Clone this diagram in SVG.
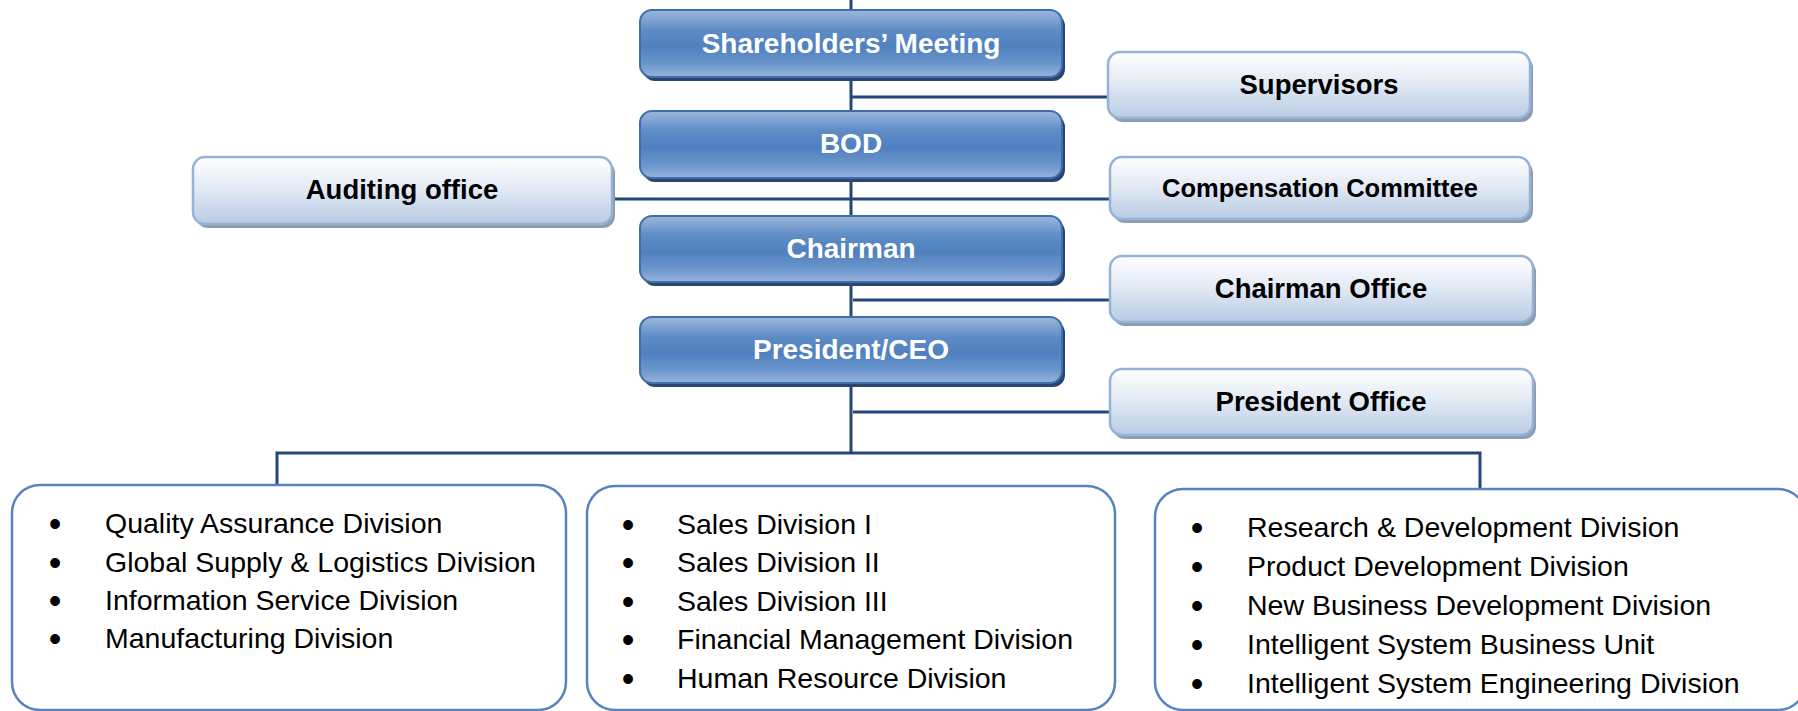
<svg xmlns="http://www.w3.org/2000/svg" width="1798" height="711" viewBox="0 0 1798 711">
<defs>
<linearGradient id="gBlue" x1="0" y1="0" x2="0" y2="1">
<stop offset="0" stop-color="#9cb8dc"/>
<stop offset="0.3" stop-color="#5e8cc6"/>
<stop offset="0.55" stop-color="#4f80bf"/>
<stop offset="0.8" stop-color="#6b96cc"/>
<stop offset="1" stop-color="#97b4da"/>
</linearGradient>
<linearGradient id="gWhite" x1="0" y1="0" x2="0" y2="1">
<stop offset="0" stop-color="#ffffff"/>
<stop offset="0.45" stop-color="#e4ebf5"/>
<stop offset="1" stop-color="#b8cbe4"/>
</linearGradient>
</defs>
<style>
.bshadow{fill:#2a4670}
.bbox{fill:url(#gBlue);stroke:#3f6ea8;stroke-width:2}
.wshadow{fill:#8e9cb0}
.wbox{fill:url(#gWhite);stroke:#95b3d7;stroke-width:2.5}
.btxt{font-family:"Liberation Sans",Arial,sans-serif;font-weight:bold;font-size:28px;fill:#ffffff;text-anchor:middle}
.wtxt{font-family:"Liberation Sans",Arial,sans-serif;font-weight:bold;font-size:27.5px;fill:#000000;text-anchor:middle}
.div{fill:#ffffff;stroke:#5584c0;stroke-width:2.5}
.li{font-family:"Liberation Sans",Arial,sans-serif;font-size:28.5px;fill:#000000}
.bul{font-family:"Liberation Sans",Arial,sans-serif;font-size:36px;fill:#000000;text-anchor:middle}
.conn{stroke:#24467a;stroke-width:3;fill:none}
</style>
<g id="connectors">
<line class="conn" x1="851" y1="0" x2="851" y2="453"/>
<line class="conn" x1="851" y1="97" x2="1108" y2="97"/>
<line class="conn" x1="611" y1="199" x2="1110" y2="199"/>
<line class="conn" x1="853" y1="300" x2="1110" y2="300"/>
<line class="conn" x1="853" y1="412" x2="1110" y2="412"/>
<polyline class="conn" points="277,486 277,453 1480,453 1480,489"/>
</g>
<g id="shareholders">
<rect class="bshadow" x="643" y="14" width="422" height="67" rx="12"/>
<rect class="bbox" x="640" y="10" width="422" height="67" rx="12"/>
<text class="btxt" x="851" y="53">Shareholders’ Meeting</text>
</g>
<g id="supervisors">
<rect class="wshadow" x="1111" y="56" width="422" height="66" rx="12"/>
<rect class="wbox" x="1108" y="52" width="422" height="66" rx="12"/>
<text class="wtxt" x="1319" y="94">Supervisors</text>
</g>
<g id="bod">
<rect class="bshadow" x="643" y="115" width="422" height="67" rx="12"/>
<rect class="bbox" x="640" y="111" width="422" height="67" rx="12"/>
<text class="btxt" x="851" y="153">BOD</text>
</g>
<g id="auditing">
<rect class="wshadow" x="196" y="161" width="419" height="67" rx="12"/>
<rect class="wbox" x="193" y="157" width="419" height="67" rx="12"/>
<text class="wtxt" x="402" y="199">Auditing office</text>
</g>
<g id="compensation">
<rect class="wshadow" x="1113" y="161" width="420" height="62" rx="12"/>
<rect class="wbox" x="1110" y="157" width="420" height="62" rx="12"/>
<text class="wtxt" x="1320" y="197" style="font-size:25.5px">Compensation Committee</text>
</g>
<g id="chairman">
<rect class="bshadow" x="643" y="220" width="422" height="66" rx="12"/>
<rect class="bbox" x="640" y="216" width="422" height="66" rx="12"/>
<text class="btxt" x="851" y="258">Chairman</text>
</g>
<g id="chairman-office">
<rect class="wshadow" x="1113" y="260" width="423" height="66" rx="12"/>
<rect class="wbox" x="1110" y="256" width="423" height="66" rx="12"/>
<text class="wtxt" x="1321" y="298">Chairman Office</text>
</g>
<g id="president">
<rect class="bshadow" x="643" y="321" width="422" height="66" rx="12"/>
<rect class="bbox" x="640" y="317" width="422" height="66" rx="12"/>
<text class="btxt" x="851" y="359">President/CEO</text>
</g>
<g id="president-office">
<rect class="wshadow" x="1113" y="373" width="423" height="66" rx="12"/>
<rect class="wbox" x="1110" y="369" width="423" height="66" rx="12"/>
<text class="wtxt" x="1321" y="411">President Office</text>
</g>
<g id="divisions-1">
<rect class="div" x="12" y="485" width="554" height="225" rx="28"/>
<text class="bul" x="55" y="536">•</text><text class="li" x="105" y="533">Quality Assurance Division</text>
<text class="bul" x="55" y="575">•</text><text class="li" x="105" y="572">Global Supply &amp; Logistics Division</text>
<text class="bul" x="55" y="613">•</text><text class="li" x="105" y="610">Information Service Division</text>
<text class="bul" x="55" y="651">•</text><text class="li" x="105" y="648">Manufacturing Division</text>
</g>
<g id="divisions-2">
<rect class="div" x="587" y="486" width="528" height="224" rx="28"/>
<text class="bul" x="628" y="537">•</text><text class="li" x="677" y="534">Sales Division I</text>
<text class="bul" x="628" y="575">•</text><text class="li" x="677" y="572">Sales Division II</text>
<text class="bul" x="628" y="614">•</text><text class="li" x="677" y="611">Sales Division III</text>
<text class="bul" x="628" y="652">•</text><text class="li" x="677" y="649">Financial Management Division</text>
<text class="bul" x="628" y="691">•</text><text class="li" x="677" y="688">Human Resource Division</text>
</g>
<g id="divisions-3">
<rect class="div" x="1155" y="489" width="651" height="221" rx="28"/>
<text class="bul" x="1197" y="540">•</text><text class="li" x="1247" y="537">Research &amp; Development Division</text>
<text class="bul" x="1197" y="579">•</text><text class="li" x="1247" y="576">Product Development Division</text>
<text class="bul" x="1197" y="618">•</text><text class="li" x="1247" y="615">New Business Development Division</text>
<text class="bul" x="1197" y="657">•</text><text class="li" x="1247" y="654">Intelligent System Business Unit</text>
<text class="bul" x="1197" y="696">•</text><text class="li" x="1247" y="693">Intelligent System Engineering Division</text>
</g>
</svg>
